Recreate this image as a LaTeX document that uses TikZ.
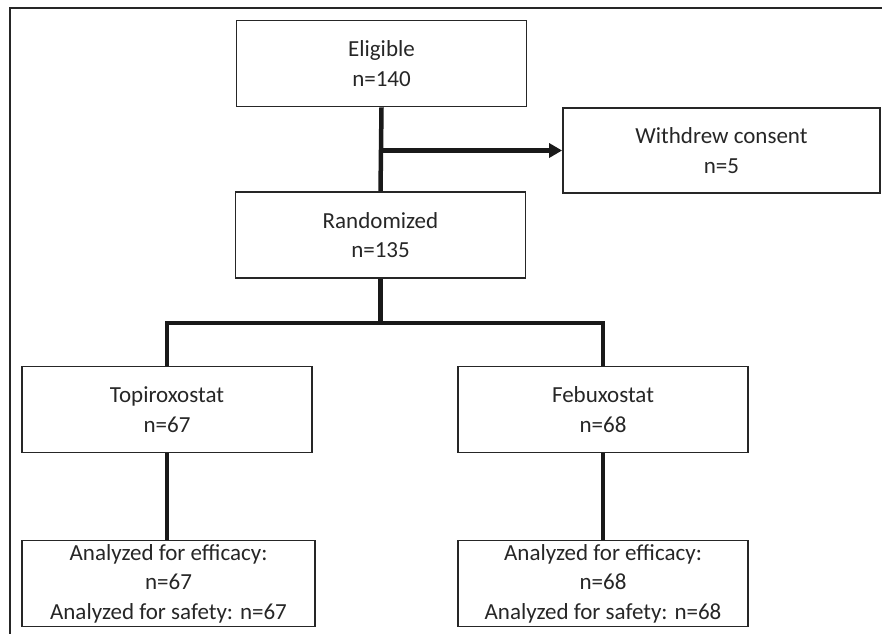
\documentclass[tikz,border=0pt]{standalone}
\usepackage{fontspec}
\setmainfont{Carlito}
\usepackage{tikz}
\usetikzlibrary{arrows.meta,positioning}

\tikzset{
    box/.style={draw=black!85, line width=1.8pt, minimum width=290pt, minimum height=86pt,
        align=center, inner sep=0pt, text=black!85, font=\fontsize{23}{29.5}\selectfont},
    link/.style={draw=black!90, line width=4.5pt},
    frame/.style={draw=black!85, line width=2.2pt}
}

\begin{document}
\begin{tikzpicture}[x=1pt, y=-1pt]
    \useasboundingbox (0,0) rectangle (882,633);
    \draw[frame] (10,650) -- (10,8) -- (900,8);

    \node[box] (eligible) at (381.5,63.5) {Eligible\\n=140};
    \node[box, minimum width=317pt, minimum height=85pt] (withdrew) at (721.5,150.5) {Withdrew consent\\n=5};
    \node[box] (random) at (380.5,235) {Randomized\\n=135};
    \node[box] (topi) at (167,409.5) {Topiroxostat\\n=67};
    \node[box] (febu) at (603,409.5) {Febuxostat\\n=68};
    \node[box, minimum width=293pt] (topires) at (168.5,583.5) {Analyzed for efficacy:\\n=67\\Analyzed for safety: n=67};
    \node[box] (feburesult) at (603,583.5) {Analyzed for efficacy:\\n=68\\Analyzed for safety: n=68};

    \draw[link] (eligible.south) -- (random.north);
    \coordinate (excl) at (eligible.south |- withdrew.west);
    \draw[link, -{Triangle[length=13pt, width=14pt]}] (excl) -- (withdrew.west);

    \coordinate (split) at (380.5,323);
    \draw[link] (random.south) -- (split);
    \draw[link] (topi.north) |- (split) -| (febu.north);

    \draw[link] (topi.south) -- (topires.north -| topi.south);
    \draw[link] (febu.south) -- (feburesult.north);
\end{tikzpicture}
\end{document}
